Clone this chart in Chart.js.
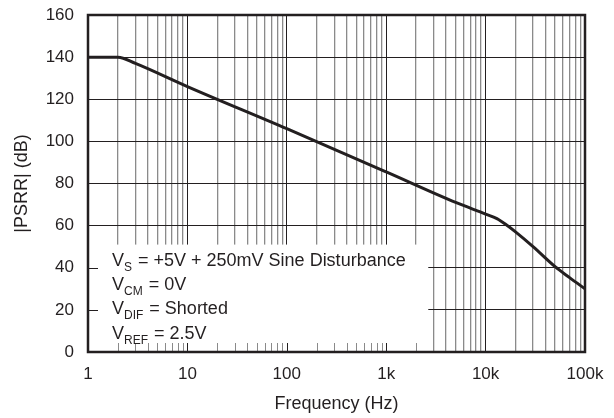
<!DOCTYPE html>
<html>
<head>
<meta charset="utf-8">
<script src="https://cdn.jsdelivr.net/npm/chart.js@4/dist/chart.umd.min.js"></script>
<style>
  html, body { margin: 0; padding: 0; background: #fff; }
  #wrap { width: 614px; height: 418px; position: relative; }
</style>
</head>
<body>
<div id="wrap"><canvas id="c"></canvas></div>
<script>
// PSRR vs frequency
const freqs = [1, 2, 3, 10, 100, 1000, 5000, 10000, 13000, 16000, 20000, 30000, 50000, 70000, 100000];
const psrr  = [140, 140, 137, 126, 106, 85.5, 71, 65.5, 63.3, 60.5, 57, 50, 40.5, 35.3, 30];

const decadeLabels = { 1: '1', 10: '10', 100: '100', 1000: '1k', 10000: '10k', 100000: '100k' };
const yTicks = [0, 20, 40, 60, 80, 100, 120, 140, 160];
const conditions = [
  ['V', 'S', ' = +5V + 250mV Sine Disturbance'],
  ['V', 'CM', ' = 0V'],
  ['V', 'DIF', ' = Shorted'],
  ['V', 'REF', ' = 2.5V']
];

const INK = '#231f20';
const FONT = '"Liberation Sans", Arial, Helvetica, sans-serif';

function isDecade(v) {
  return decadeLabels[v] !== undefined;
}

// white note box in the lower left, with the tick stubs that show through it
const noteBox = {
  id: 'noteBox',
  beforeDatasetsDraw(chart) {
    const { ctx, chartArea: a, scales: { x, y } } = chart;
    const bx0 = a.left, bx1 = x.getPixelForValue(2650);
    const by0 = y.getPixelForValue(51), by1 = a.bottom;
    ctx.save();
    ctx.fillStyle = '#fff';
    ctx.fillRect(bx0, by0, bx1 - bx0, by1 - by0);

    ctx.lineWidth = 1;
    x.ticks.forEach(t => {
      const px = x.getPixelForValue(t.value);
      if (px <= bx0 + 2 || px >= bx1) return;
      ctx.strokeStyle = isDecade(t.value) ? INK : '#8a8a8a';
      ctx.beginPath();
      ctx.moveTo(Math.round(px) + 0.5, by1);
      ctx.lineTo(Math.round(px) + 0.5, by1 - 9);
      ctx.stroke();
    });
    [20, 40].forEach(v => {
      const py = Math.round(y.getPixelForValue(v)) + 0.5;
      ctx.strokeStyle = INK;
      ctx.beginPath();
      ctx.moveTo(bx0, py);
      ctx.lineTo(bx0 + 10, py);
      ctx.stroke();
    });

    ctx.fillStyle = INK;
    ctx.textBaseline = 'alphabetic';
    ctx.textAlign = 'left';
    conditions.forEach((c, i) => {
      const base = 266 + i * 24.2;
      let cx = 112;
      ctx.font = '18px ' + FONT;
      ctx.fillText(c[0], cx, base);
      cx += ctx.measureText(c[0]).width;
      ctx.font = '12px ' + FONT;
      ctx.fillText(c[1], cx, base + 5);
      cx += ctx.measureText(c[1]).width + 1;
      ctx.font = '18px ' + FONT;
      ctx.fillText(c[2], cx, base);
    });
    ctx.restore();
  },
  afterDatasetsDraw(chart) {
    const { ctx, chartArea: a } = chart;
    ctx.save();
    ctx.strokeStyle = INK;
    ctx.lineWidth = 2.5;
    ctx.strokeRect(a.left, a.top, a.right - a.left, a.bottom - a.top);
    ctx.restore();
  }
};

new Chart(document.getElementById('c'), {
  type: 'line',
  data: {
    datasets: [{
      data: freqs.map((f, i) => ({ x: f, y: psrr[i] })),
      borderColor: INK,
      borderWidth: 3,
      pointRadius: 0,
      cubicInterpolationMode: 'monotone',
      fill: false
    }]
  },
  options: {
    responsive: true,
    maintainAspectRatio: false,
    animation: false,
    layout: { padding: { top: 15, right: 29, left: 0, bottom: 0 } },
    plugins: { legend: { display: false }, tooltip: { enabled: false } },
    scales: {
      x: {
        type: 'logarithmic',
        min: 1,
        max: 100000,
        afterFit(s) { s.height = 66; s.paddingLeft = 0; s.paddingRight = 0; },
        afterBuildTicks(s) {
          const t = [];
          for (let d = 1; d <= 100000; d *= 10) {
            for (let m = 1; m <= 9; m++) {
              if (d * m <= 100000) t.push({ value: d * m });
            }
          }
          s.ticks = t;
        },
        grid: {
          drawTicks: false,
          lineWidth: ctx => (ctx.tick && isDecade(ctx.tick.value)) ? 1 : 1.3,
          color: ctx => (ctx.tick && isDecade(ctx.tick.value)) ? INK : '#8a8a8a'
        },
        border: { display: false },
        ticks: {
          autoSkip: false,
          maxRotation: 0,
          padding: 12,
          color: INK,
          font: { family: FONT, size: 17 },
          callback: v => decadeLabels[v] || ''
        },
        title: {
          display: true,
          text: 'Frequency (Hz)',
          color: INK,
          font: { family: FONT, size: 18 },
          padding: { top: 0, bottom: 3 }
        }
      },
      y: {
        min: 0,
        max: 160,
        afterFit(s) { s.width = 88; s.paddingTop = 0; s.paddingBottom = 0; },
        afterBuildTicks(s) { s.ticks = yTicks.map(v => ({ value: v })); },
        grid: { drawTicks: false, color: INK, lineWidth: 1 },
        border: { display: false },
        ticks: {
          padding: 14,
          color: INK,
          font: { family: FONT, size: 17 }
        },
        title: {
          display: true,
          text: '|PSRR| (dB)',
          color: INK,
          font: { family: FONT, size: 18 },
          padding: { top: 11, bottom: 0 }
        }
      }
    }
  },
  plugins: [noteBox]
});
</script>
</body>
</html>
